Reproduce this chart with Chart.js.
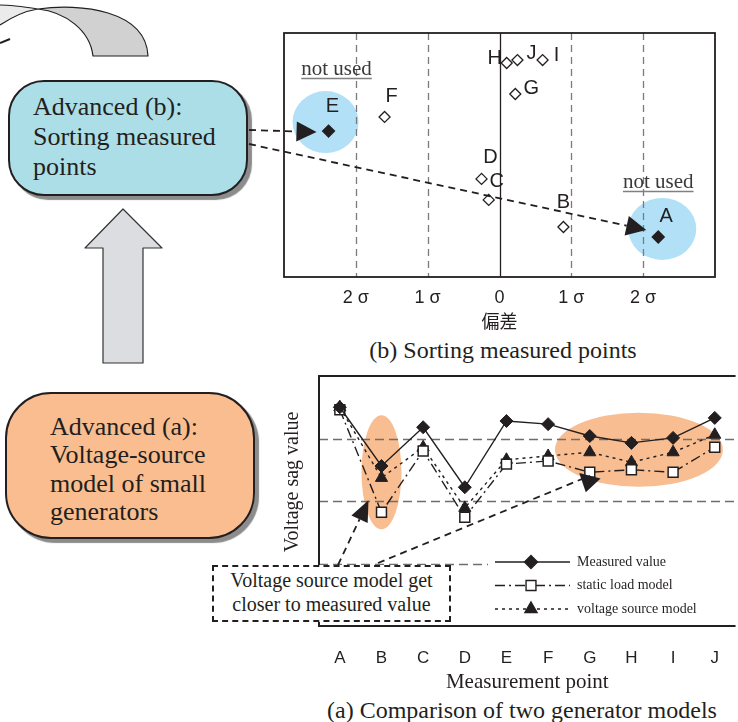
<!DOCTYPE html>
<html>
<head>
<meta charset="utf-8">
<script src="https://cdn.jsdelivr.net/npm/chart.js@4.4.1/dist/chart.umd.min.js"></script>
<style>
    html, body { margin: 0; padding: 0; background: #fff; }
    body {
        width: 738px; height: 722px; position: relative; overflow: hidden;
        font-family: "Liberation Serif", "Times New Roman", serif; color: #231f20;
    }
    .pill {
        position: absolute; box-sizing: border-box; border: 2px solid #231f20;
        box-shadow: 4px 4px 1px #8c8c8c; font-size: 26px; z-index: 2;
    }
    #boxB { left: 8px; top: 80px; width: 240px; height: 116px; border-radius: 36px;
        background: #acdee7; padding: 10px 0 0 23px; line-height: 30px; }
    #boxA { left: 5px; top: 392px; width: 250px; height: 147px; border-radius: 46px;
        background: #f9bd8f; padding: 19px 0 0 43px; line-height: 28.3px; }
    #note { position: absolute; left: 212px; top: 565px; width: 239px; height: 57px;
        box-sizing: border-box; border: 2px dashed #231f20; background: #fff;
        text-align: center; font-size: 20px; line-height: 24px; padding-top: 1px; z-index: 5; }
    .cap { position: absolute; white-space: nowrap; transform: translateX(-50%);
        font-size: 24px; line-height: 24px; }
    #sortWrap { position: absolute; left: 270px; top: 23px; z-index: 1; }
    #compareWrap { position: absolute; left: 276px; top: 370px; z-index: 1; }
    #overlay { position: absolute; left: 0; top: 0; z-index: 10; pointer-events: none; }
</style>
</head>
<body>
<div id="boxB" class="pill">Advanced (b):<br>Sorting measured<br>points</div>
<div id="boxA" class="pill">Advanced (a):<br>Voltage-source<br>model of small<br>generators</div>
<div id="sortWrap"><canvas id="sortChart" width="460" height="312"></canvas></div>
<div class="cap" style="left:503px;top:338px">(b) Sorting measured points</div>
<div id="compareWrap"><canvas id="compareChart" width="465" height="336"></canvas></div>
<div id="note">Voltage source model get<br>closer to measured value</div>
<div class="cap" style="left:522px;top:698px">(a) Comparison of two generator models</div>
<canvas id="overlay" width="738" height="722"></canvas>

<script>
// (b) sorting of measured points by deviation
const pointNames = ["A", "B", "C", "D", "E", "F", "G", "H", "I", "J"];
const deviationSigma = [2.21, 0.89, -0.15, -0.25, -2.38, -1.60, 0.22, 0.10, 0.60, 0.25];
const sortLevel = [1.64, 2.05, 3.16, 4.02, 5.98, 6.56, 7.50, 8.77, 8.89, 8.89];
const notUsedPoints = ["A", "E"];
const sigmaTicks = [-2, -1, 0, 1, 2];
const sigmaTickLabels = ["2 σ", "1 σ", "0", "1 σ", "2 σ"];

// (a) comparison of two generator models
const measurementPoints = ["A", "B", "C", "D", "E", "F", "G", "H", "I", "J"];
const measuredValue = [3.50, 2.56, 3.18, 2.22, 3.28, 3.23, 3.04, 2.93, 3.01, 3.33];
const staticLoadModel = [3.46, 1.82, 2.80, 1.74, 2.59, 2.64, 2.46, 2.50, 2.46, 2.86];
const voltageSourceModel = [3.50, 2.37, 2.86, 1.89, 2.66, 2.72, 2.78, 2.62, 2.78, 3.06];
const sagGridLines = [1, 2, 3];

const INK = "#231f20";
const SERIF = '"Liberation Serif", "Times New Roman", serif';
const SANS = '"Liberation Sans", Arial, sans-serif';

// label placement around each point (px)
const nameOffsets = {
    A: [8, -20], B: [0, -24], C: [8, -18], D: [9, -21], E: [4, -25],
    F: [7, -20], G: [16, -6], H: [-12, -5], I: [14, -5], J: [14, -7],
};
const notUsedHalo = {
    E: { dx: -3, dy: -9, rx: 33, ry: 31, textDx: 8, textDy: -56 },
    A: { dx: 4, dy: -8, rx: 34, ry: 31, textDx: 0, textDy: -49 },
};
// highlighted zones in (a): category index, level, radii in px
const highlightZones = [
    { at: 1, level: 2.46, rx: 20, ry: 57 },
    { at: 7.18, level: 2.82, rx: 84, ry: 37 },
];

// -------------------------------------------------------------------------
// marker helper (used for the hand-drawn legend)
// -------------------------------------------------------------------------
function drawMarker(ctx, style, x, y, r, fill) {
    ctx.beginPath();
    if (style === "rectRot") {
        ctx.moveTo(x - r, y); ctx.lineTo(x, y - r); ctx.lineTo(x + r, y); ctx.lineTo(x, y + r);
    } else if (style === "rect") {
        const s = Math.SQRT1_2 * r;
        ctx.rect(x - s, y - s, 2 * s, 2 * s);
    } else {
        for (let k = 0; k < 3; k++) {
            const a = k * 2 * Math.PI / 3;
            ctx[k ? "lineTo" : "moveTo"](x + Math.sin(a) * r, y - Math.cos(a) * r);
        }
    }
    ctx.closePath();
    ctx.fillStyle = fill;
    ctx.fill();
    ctx.setLineDash([]);
    ctx.stroke();
}

const sortDecor = {
    id: "sortDecor",
    beforeDatasetsDraw(chart) {
        const { ctx, chartArea: a, scales: { x } } = chart;
        const meta = chart.getDatasetMeta(0);
        ctx.save();
        ctx.fillStyle = "#b2e0f6";
        notUsedPoints.forEach((n) => {
            const p = meta.data[pointNames.indexOf(n)];
            const h = notUsedHalo[n];
            ctx.beginPath();
            ctx.ellipse(p.x + h.dx, p.y + h.dy, h.rx, h.ry, 0, 0, Math.PI * 2);
            ctx.fill();
        });
        sigmaTicks.forEach((v) => {
            const px = Math.round(x.getPixelForValue(v)) + 0.5;
            ctx.beginPath();
            ctx.setLineDash(v === 0 ? [] : [7, 5]);
            ctx.strokeStyle = v === 0 ? INK : "#7a7a7a";
            ctx.lineWidth = 1.3;
            ctx.moveTo(px, a.top);
            ctx.lineTo(px, a.bottom);
            ctx.stroke();
        });
        ctx.setLineDash([]);
        ctx.strokeStyle = INK;
        ctx.lineWidth = 1.8;
        ctx.strokeRect(a.left, a.top, a.right - a.left, a.bottom - a.top);
        ctx.restore();
    },
    afterDatasetsDraw(chart) {
        const { ctx } = chart;
        const meta = chart.getDatasetMeta(0);
        ctx.save();
        ctx.fillStyle = INK;
        ctx.font = "20px " + SANS;
        ctx.textAlign = "center";
        ctx.textBaseline = "middle";
        pointNames.forEach((n, i) => {
            const p = meta.data[i];
            const o = nameOffsets[n];
            ctx.fillText(n, p.x + o[0], p.y + o[1]);
        });
        ctx.font = "21px " + SERIF;
        ctx.textBaseline = "alphabetic";
        notUsedPoints.forEach((n) => {
            const p = meta.data[pointNames.indexOf(n)];
            const h = notUsedHalo[n];
            const tx = p.x + h.textDx, ty = p.y + h.textDy;
            ctx.fillStyle = "#3a3a3a";
            ctx.fillText("not used", tx, ty);
            const w = ctx.measureText("not used").width;
            ctx.strokeStyle = "#808080";
            ctx.lineWidth = 1.5;
            ctx.beginPath();
            ctx.moveTo(tx - w / 2, ty + 3.5);
            ctx.lineTo(tx + w / 2, ty + 3.5);
            ctx.stroke();
        });
        ctx.restore();
    },
};

const sortChart = new Chart(document.getElementById("sortChart"), {
    type: "scatter",
    data: {
        datasets: [{
            data: pointNames.map((n, i) => ({ x: deviationSigma[i], y: sortLevel[i] })),
            pointStyle: "rectRot",
            pointRadius: (c) => (notUsedPoints.includes(pointNames[c.dataIndex]) ? 6 : 5.5),
            pointBackgroundColor: (c) => (notUsedPoints.includes(pointNames[c.dataIndex]) ? INK : "#fff"),
            pointBorderColor: INK,
            pointBorderWidth: 1.3,
        }],
    },
    options: {
        responsive: false,
        animation: false,
        layout: { autoPadding: false, padding: { left: 14, right: 15, top: 10, bottom: 0 } },
        plugins: { legend: { display: false }, tooltip: { enabled: false } },
        scales: {
            x: {
                min: -3,
                max: 3,
                afterBuildTicks: (s) => { s.ticks = sigmaTicks.map((v) => ({ value: v })); },
                afterFit: (s) => { s.height = 58; },
                grid: { display: false, drawTicks: false },
                border: { display: false },
                ticks: {
                    callback: (v) => sigmaTickLabels[sigmaTicks.indexOf(v)],
                    font: { family: SANS, size: 18 },
                    color: INK,
                    padding: 10,
                    maxRotation: 0,
                    autoSkip: false,
                },
                title: {
                    display: true,
                    text: "偏差",
                    font: { family: '"Noto Sans CJK JP", sans-serif', size: 18 },
                    color: INK,
                    padding: { top: 0, bottom: 3 },
                },
            },
            y: { display: false, min: 0, max: 10 },
        },
    },
    plugins: [sortDecor],
});

const compareDecor = {
    id: "compareDecor",
    beforeDatasetsDraw(chart) {
        const { ctx, chartArea: a, scales: { x, y } } = chart;
        ctx.save();
        ctx.fillStyle = "#f8bd91";
        highlightZones.forEach((z) => {
            ctx.beginPath();
            ctx.ellipse(x.getPixelForValue(z.at), y.getPixelForValue(z.level), z.rx, z.ry, 0, 0, Math.PI * 2);
            ctx.fill();
        });
        ctx.strokeStyle = "#6e6e6e";
        ctx.lineWidth = 1.3;
        ctx.setLineDash([9, 5]);
        sagGridLines.forEach((v) => {
            const py = Math.round(y.getPixelForValue(v)) + 0.5;
            ctx.beginPath();
            ctx.moveTo(a.left, py);
            ctx.lineTo(a.right, py);
            ctx.stroke();
        });
        ctx.setLineDash([]);
        ctx.strokeStyle = INK;
        ctx.lineWidth = 2;
        ctx.beginPath();
        ctx.moveTo(a.right, a.top);
        ctx.lineTo(a.left, a.top);
        ctx.lineTo(a.left, a.bottom);
        ctx.lineTo(a.right, a.bottom);
        ctx.stroke();
        // legend background
        ctx.fillStyle = "#fff";
        ctx.fillRect(a.left + 169, a.top + 175, a.right - a.left - 169, 71);
        ctx.restore();
    },
    afterDatasetsDraw(chart) {
        const { ctx, chartArea: a } = chart;
        ctx.save();
        chart.data.datasets.forEach((ds, i) => {
            const ly = a.top + 186 + i * 23.5;
            ctx.strokeStyle = INK;
            ctx.lineWidth = 1.4;
            ctx.setLineDash(ds.borderDash || []);
            ctx.beginPath();
            ctx.moveTo(a.left + 176, ly);
            ctx.lineTo(a.left + 251, ly);
            ctx.stroke();
            drawMarker(ctx, ds.pointStyle, a.left + 212, ly, ds.pointRadius, ds.pointBackgroundColor);
            ctx.fillStyle = INK;
            ctx.font = "14px " + SERIF;
            ctx.textAlign = "left";
            ctx.textBaseline = "middle";
            ctx.fillText(ds.label, a.left + 258, ly);
        });
        // y axis title
        ctx.translate(a.left - 26, a.top + 106);
        ctx.rotate(-Math.PI / 2);
        ctx.font = "20px " + SERIF;
        ctx.textAlign = "center";
        ctx.textBaseline = "middle";
        ctx.fillStyle = INK;
        ctx.fillText("Voltage sag value", 0, 0);
        ctx.restore();
    },
};

const compareChart = new Chart(document.getElementById("compareChart"), {
    type: "line",
    data: {
        labels: measurementPoints,
        datasets: [
            {
                label: "Measured value",
                data: measuredValue,
                borderColor: INK,
                borderWidth: 1.4,
                borderDash: [],
                pointStyle: "rectRot",
                pointRadius: 6.5,
                pointBackgroundColor: INK,
                pointBorderColor: INK,
                pointBorderWidth: 1,
            },
            {
                label: "static load model",
                data: staticLoadModel,
                borderColor: INK,
                borderWidth: 1.4,
                borderDash: [10, 4, 2, 4],
                pointStyle: "rect",
                pointRadius: 7,
                pointBackgroundColor: "#fff",
                pointBorderColor: INK,
                pointBorderWidth: 1.5,
            },
            {
                label: "voltage source model",
                data: voltageSourceModel,
                borderColor: INK,
                borderWidth: 1.4,
                borderDash: [3, 4],
                pointStyle: "triangle",
                pointRadius: 7,
                pointBackgroundColor: INK,
                pointBorderColor: INK,
                pointBorderWidth: 1,
            },
        ],
    },
    options: {
        responsive: false,
        animation: false,
        layout: { autoPadding: false, padding: { left: 0, right: 0, top: 6, bottom: 0 } },
        plugins: { legend: { display: false }, tooltip: { enabled: false } },
        elements: { line: { tension: 0 } },
        scales: {
            x: {
                type: "category",
                offset: true,
                afterFit: (s) => { s.height = 80; },
                grid: { display: false, drawTicks: false },
                border: { display: false },
                ticks: { font: { family: SANS, size: 17 }, color: INK, padding: 22, maxRotation: 0 },
                title: {
                    display: true,
                    text: "Measurement point",
                    font: { family: SERIF, size: 21 },
                    color: INK,
                    padding: { top: 0, bottom: 11 },
                },
            },
            y: {
                min: 0,
                max: 4,
                afterFit: (s) => { s.width = 43; },
                grid: { display: false, drawTicks: false },
                border: { display: false },
                ticks: { display: false },
            },
        },
    },
    plugins: [compareDecor],
});

// -------------------------------------------------------------------------
// overlay: block arrows and dashed call-out arrows
// -------------------------------------------------------------------------
function toPage(chart, px, py) {
    const r = chart.canvas.getBoundingClientRect();
    return [r.left + px, r.top + py];
}

function dashedArrow(ctx, from, tip, dir, len, half) {
    const d = dir || [tip[0] - from[0], tip[1] - from[1]];
    const L = Math.hypot(d[0], d[1]);
    const ux = d[0] / L, uy = d[1] / L;
    const bx = tip[0] - ux * len, by = tip[1] - uy * len;
    ctx.strokeStyle = INK;
    ctx.lineWidth = 1.8;
    ctx.setLineDash([7, 5]);
    ctx.beginPath();
    ctx.moveTo(from[0], from[1]);
    ctx.lineTo(bx, by);
    ctx.stroke();
    ctx.setLineDash([]);
    ctx.fillStyle = INK;
    ctx.beginPath();
    ctx.moveTo(tip[0], tip[1]);
    ctx.lineTo(bx - uy * half, by + ux * half);
    ctx.lineTo(bx + uy * half, by - ux * half);
    ctx.closePath();
    ctx.fill();
}

function drawOverlay() {
    const ctx = document.getElementById("overlay").getContext("2d");
    ctx.lineJoin = "round";

    // curved ribbon (top-left, cut off)
    ctx.fillStyle = "#ebebeb";
    ctx.beginPath();
    ctx.moveTo(0, 5);
    ctx.bezierCurveTo(12, 5, 25, 7, 38, 9);
    ctx.bezierCurveTo(25, 11, 12, 17, 0, 25);
    ctx.closePath();
    ctx.fill();
    ctx.fillStyle = "#d1d1d1";
    ctx.beginPath();
    ctx.moveTo(38, 9);
    ctx.bezierCurveTo(80, 3, 146, 10, 148, 56);
    ctx.lineTo(93, 56);
    ctx.bezierCurveTo(90, 30, 65, 12, 38, 9);
    ctx.closePath();
    ctx.fill();
    ctx.strokeStyle = INK;
    ctx.lineWidth = 1.2;
    ctx.beginPath();
    ctx.moveTo(0, 25);
    ctx.bezierCurveTo(12, 17, 25, 11, 38, 9);
    ctx.bezierCurveTo(80, 3, 146, 10, 148, 56);
    ctx.lineTo(93, 56);
    ctx.bezierCurveTo(90, 30, 65, 12, 38, 9);
    ctx.bezierCurveTo(25, 7, 12, 5, 0, 5);
    ctx.stroke();
    ctx.lineWidth = 2;
    ctx.beginPath();
    ctx.moveTo(0, 43);
    ctx.lineTo(10, 39);
    ctx.stroke();

    // up block arrow between the two boxes
    ctx.fillStyle = "#dcdde0";
    ctx.strokeStyle = "#333";
    ctx.lineWidth = 1.2;
    ctx.beginPath();
    ctx.moveTo(123, 209);
    ctx.lineTo(162, 248);
    ctx.lineTo(143, 248);
    ctx.lineTo(143, 363);
    ctx.lineTo(103, 363);
    ctx.lineTo(103, 248);
    ctx.lineTo(85, 248);
    ctx.closePath();
    ctx.fill();
    ctx.stroke();

    // (b) arrows from the box to the excluded points
    const sortMeta = sortChart.getDatasetMeta(0);
    const pE = sortMeta.data[pointNames.indexOf("E")];
    const pA = sortMeta.data[pointNames.indexOf("A")];
    const tipE = toPage(sortChart, pE.x - 12, pE.y + 1);
    const tipA = toPage(sortChart, pA.x - 12, pA.y - 7);
    dashedArrow(ctx, [249, 130], tipE, null, 20, 10);
    dashedArrow(ctx, [249, 144], tipA, null, 20, 10);

    // (a) arrows from the note to the improved points
    const staticMeta = compareChart.getDatasetMeta(1);
    const sB = staticMeta.data[measurementPoints.indexOf("B")];
    const sG = staticMeta.data[measurementPoints.indexOf("G")];
    const tipB = toPage(compareChart, sB.x - 13, sB.y - 12);
    const tipG = toPage(compareChart, sG.x - 4, sG.y + 20);
    dashedArrow(ctx, [338, 565], tipB, null, 21, 9);
    dashedArrow(ctx, [378, 563], tipG, [-4, 16], 17, 11);
}

drawOverlay();
</script>
</body>
</html>
